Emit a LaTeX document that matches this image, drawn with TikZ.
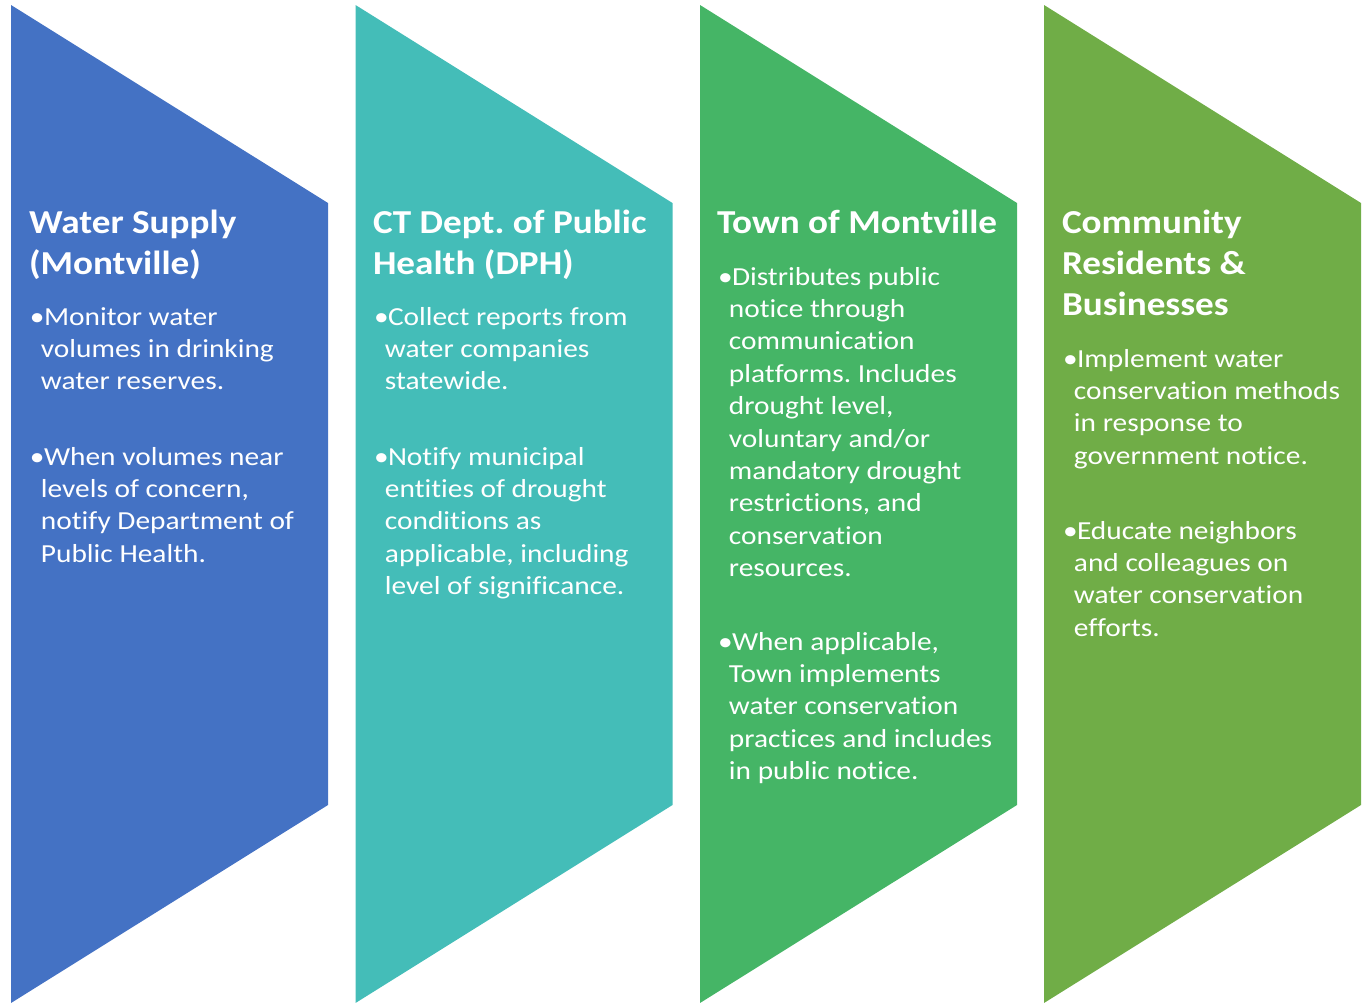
\documentclass[tikz,border=0pt]{standalone}
\usepackage{fontspec}
\usepackage{graphicx}
\setmainfont{Carlito}[Ligatures={CommonOff,RareOff}]
\frenchspacing
\definecolor{cblue}{HTML}{4472C4}
\definecolor{cteal}{HTML}{44BDB8}
\definecolor{cgreen}{HTML}{45B566}
\definecolor{colive}{HTML}{70AD47}
\newcommand\ttlbox[1]{\scalebox{1.11}[1]{\parbox[t]{300pt}{\fontsize{33.5}{41}\selectfont\bfseries\frenchspacing\raggedright #1}}}
\newcommand\bulbox[1]{\scalebox{1.13}[1]{\parbox[t]{300pt}{\fontsize{26}{32.4}\selectfont\frenchspacing\raggedright\hangindent=9.7pt\hangafter=1 \makebox[12.4pt][l]{•}#1}}}
\tikzset{
  panel/.style={fill=#1, draw=none},
  txt/.style={anchor=base west, inner sep=0pt, outer sep=0pt, text=white},
}
\begin{document}
\begin{tikzpicture}[x=1pt,y=-1pt]
\useasboundingbox (0,0) rectangle (1369,1002);
\clip (0,0) rectangle (1369,1002);
\foreach \L/\c in {11/cblue,355.5/cteal,700/cgreen,1044/colive}{
  \fill[panel=\c] (\L,5) -- (\L+317,203) -- (\L+317,805) -- (\L,1003) -- cycle;
}
% panel 1
\node[txt] (t1) at (29,233) {\ttlbox{Water Supply\newline(Montville)}};
\node[txt] (a1) at (30,325) {\bulbox{Monitor water\newline volumes in drinking\newline water reserves.}};
\node[txt] (b1) at (30,465) {\bulbox{When volumes near\newline levels of concern,\newline notify Department of\newline Public Health.}};
% panel 2
\node[txt] (t2) at (373,233) {\ttlbox{CT Dept. of Public\newline Health (DPH)}};
\node[txt] (a2) at (374,325) {\bulbox{Collect reports from\newline water companies\newline statewide.}};
\node[txt] (b2) at (374,465) {\bulbox{Notify municipal\newline entities of drought\newline conditions as\newline applicable, including\newline level of significance.}};
% panel 3
\node[txt] (t3) at (717,233) {\ttlbox{Town of Montville}};
\node[txt] (a3) at (718,285) {\bulbox{Distributes public\newline notice through\newline communication\newline platforms. Includes\newline drought level,\newline voluntary and/or\newline mandatory drought\newline restrictions, and\newline conservation\newline resources.}};
\node[txt] (b3) at (718,650) {\bulbox{When applicable,\newline Town implements\newline water conservation\newline practices and includes\newline in public notice.}};
% panel 4
\node[txt] (t4) at (1062,233) {\ttlbox{Community\newline Residents \&\newline Businesses}};
\node[txt] (a4) at (1063,367) {\bulbox{Implement water\newline conservation methods\newline in response to\newline government notice.}};
\node[txt] (b4) at (1063,539) {\bulbox{Educate neighbors\newline and colleagues on\newline water conservation\newline efforts.}};
\end{tikzpicture}
\end{document}
